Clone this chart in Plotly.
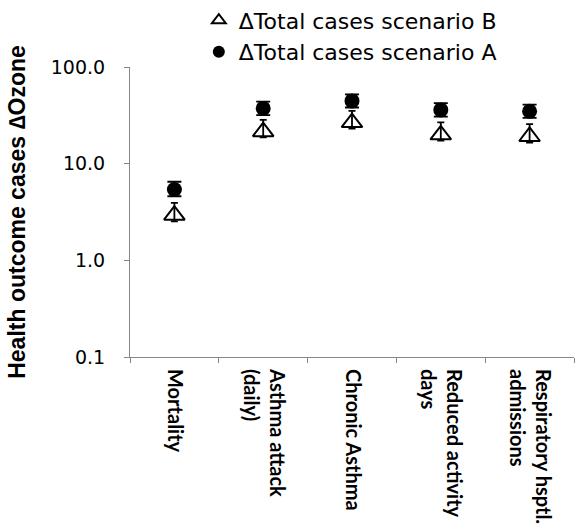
import plotly.graph_objects as go

categories = ["Mortality", "Asthma attack<br>(daily)", "Chronic Asthma",
              "Reduced activity<br>days", "Respiratory hsptl.<br>admissions"]

scenario_a = [5.4, 37.3, 44.6, 36.0, 34.8]
scenario_a_err_up = [1.1, 6.5, 7.5, 6.3, 6.0]
scenario_a_err_down = [0.8, 5.5, 6.5, 5.3, 5.1]

scenario_b = [2.93, 21.4, 26.6, 19.9, 19.1]
scenario_b_err_up = [1.0, 7.0, 8.6, 6.8, 6.6]
scenario_b_err_down = [0.4, 2.7, 3.5, 2.6, 2.6]

y_tickvals = [0.1, 1, 10, 100]
y_ticktext = ["0.1", "1.0", "10.0", "100.0"]

fig = go.Figure()

fig.add_trace(go.Scatter(
    x=categories, y=scenario_b, mode="markers",
    name="\u0394Total cases scenario B",
    marker=dict(symbol="triangle-up-open", size=18, color="black",
                line=dict(color="black", width=2)),
    error_y=dict(type="data", array=scenario_b_err_up, arrayminus=scenario_b_err_down,
                 symmetric=False, color="black", thickness=1.8, width=3.5),
))
fig.add_trace(go.Scatter(
    x=categories, y=scenario_a, mode="markers",
    name="\u0394Total cases scenario A",
    marker=dict(symbol="circle", size=15, color="black"),
    error_y=dict(type="data", array=scenario_a_err_up, arrayminus=scenario_a_err_down,
                 symmetric=False, color="black", thickness=1.8, width=7),
))

fig.update_layout(
    width=576, height=527,
    margin=dict(l=130, r=2, t=67, b=170, autoexpand=False),
    paper_bgcolor="white", plot_bgcolor="white",
    font=dict(family="DejaVu Sans, Arial, sans-serif", color="black"),
    showlegend=True,
    legend=dict(x=0.155, y=1.233, xanchor="left", yanchor="top",
                font=dict(size=22, family="DejaVu Sans, Arial, sans-serif", color="black"),
                bgcolor="rgba(0,0,0,0)", itemsizing="constant", tracegroupgap=0),
)

fig.update_yaxes(
    type="log", range=[-1, 2],
    tickvals=y_tickvals, ticktext=y_ticktext,
    showgrid=False, zeroline=False, automargin=False,
    showline=True, linecolor="#868686", linewidth=1,
    ticks="outside", ticklen=5, tickcolor="#868686",
    tickfont=dict(size=19, family="DejaVu Sans, Arial, sans-serif", color="black"),
    ticklabelstandoff=15,
    title=dict(text="<b>Health outcome cases \u2206Ozone</b>", standoff=18,
               font=dict(size=23, family="Liberation Sans, Arial, sans-serif", color="black")),
)

fig.update_xaxes(
    type="category", range=[-0.5, 4.5],
    showgrid=False, zeroline=False, automargin=False,
    showline=True, linecolor="#868686", linewidth=1,
    ticks="outside", ticklen=5, tickcolor="#868686", tickson="boundaries",
    tickangle=90,
    tickfont=dict(size=20, family="Lato, Carlito, sans-serif", color="black", weight="bold"),
    ticklabelstandoff=7,
)

fig.write_html("out.html", config={"displayModeBar": False},
               post_script="document.body.style.margin='0';")
